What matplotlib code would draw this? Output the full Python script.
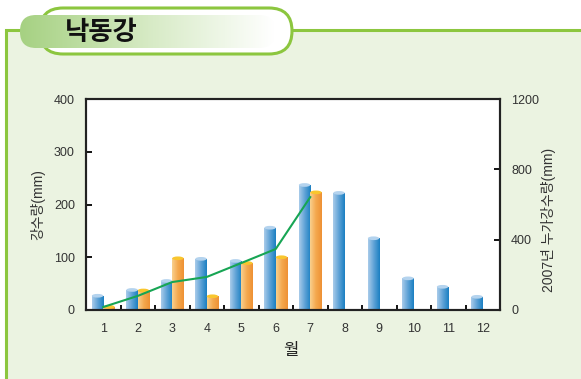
import numpy as np
import matplotlib
matplotlib.use('Agg')
import matplotlib.pyplot as plt
from matplotlib.patches import FancyBboxPatch, Rectangle, Ellipse
from matplotlib.colors import LinearSegmentedColormap

plt.rcParams['font.family'] = ['Liberation Sans', 'Noto Sans CJK KR', 'DejaVu Sans']

# 데이터
months = [1, 2, 3, 4, 5, 6, 7, 8, 9, 10, 11, 12]
avg_rain = [27, 38, 55, 97, 93, 156, 237, 222, 136, 60, 44, 25]
rain_2007 = [6, 37, 98, 26, 89, 100, 223]
cum_2007 = [17, 80, 159, 188, 267, 347, 642]

title = '낙동강'
green = '#8cc63f'

fig = plt.figure(figsize=(5.81, 3.79), dpi=100)

# 배경 (픽셀 좌표)
bg = fig.add_axes([0, 0, 1, 1], zorder=0)
bg.set_xlim(0, 581)
bg.set_ylim(379, 0)
bg.axis('off')
bg.add_patch(Rectangle((6, 30), 580, 360, facecolor='#ebf3e1', edgecolor=green, lw=2.2))

tab = FancyBboxPatch((40, 8), 252, 46, boxstyle='round,pad=0,rounding_size=23',
                     facecolor='white', edgecolor=green, lw=2.2)
bg.add_patch(tab)
pill = FancyBboxPatch((20, 15), 255, 33, boxstyle='round,pad=0,rounding_size=16',
                      facecolor='none', edgecolor='none')
bg.add_patch(pill)
tab_cmap = LinearSegmentedColormap.from_list('tab', ['#a6d182', '#d6eac4', '#ffffff'])
im = bg.imshow(np.linspace(0, 1, 128).reshape(1, -1), cmap=tab_cmap,
               extent=[20, 275, 48, 15], aspect='auto', zorder=1)
im.set_clip_path(pill)
bg.set_xlim(0, 581)
bg.set_ylim(379, 0)
bg.text(101, 33, title, fontsize=19, fontweight='bold', ha='center', va='center',
        color='#111111', zorder=3, family='Noto Sans CJK KR')

# 그래프
ax = fig.add_axes([86 / 581, (379 - 310) / 379, (500 - 86) / 581, (310 - 99) / 379], zorder=2)
ax.set_facecolor('white')

blue_cmap = LinearSegmentedColormap.from_list('b', ['#a9cbea', '#5ea2d6', '#1b7fc2'])
orange_cmap = LinearSegmentedColormap.from_list('o', ['#f9d08e', '#f4a84e', '#ee9134'])
grad = np.linspace(0, 1, 64).reshape(1, -1)

x = np.array(months)
w = 0.33
b1 = ax.bar(x - w / 2, avg_rain, w, facecolor='none', edgecolor='none')
b2 = ax.bar(x[:len(rain_2007)] + w / 2, rain_2007, w, facecolor='none', edgecolor='none')


def cylinders(bars, cmap, cap):
    for bar in bars:
        x0, h, bw = bar.get_x(), bar.get_height(), bar.get_width()
        im = ax.imshow(grad, cmap=cmap, extent=[x0, x0 + bw, 0, h], aspect='auto', zorder=2)
        im.set_clip_path(bar)
        ax.add_patch(Ellipse((x0 + bw / 2, h), bw, 7, facecolor=cap, edgecolor='none', zorder=3))


cylinders(b1, blue_cmap, '#b4d3ee')
cylinders(b2, orange_cmap, '#f9c62e')

ax.set_xlim(0.5, 12.5)
ax.set_ylim(0, 400)
ax.set_yticks([0, 100, 200, 300, 400])
ax.set_xticks(months)
ax.set_xticks(np.arange(1.5, 12.5, 1), minor=True)
ax.tick_params(axis='x', which='major', length=0, pad=9, labelsize=9, labelcolor='#333333')
ax.tick_params(axis='x', which='minor', direction='in', length=3.5, width=1.3)
ax.tick_params(axis='y', direction='in', length=4, width=1.3, labelsize=9,
               labelcolor='#333333', pad=8)
for s in ax.spines.values():
    s.set_linewidth(1.5)
    s.set_color('#222222')

ax2 = ax.twinx()
ax2.plot(months[:len(cum_2007)], cum_2007, color='#17a554', lw=1.5, zorder=5)
ax2.set_ylim(0, 1200)
ax2.set_yticks([0, 400, 800, 1200])
ax2.tick_params(axis='y', direction='in', length=4, width=1.3, labelsize=9,
                labelcolor='#333333', pad=8)
for s in ax2.spines.values():
    s.set_linewidth(1.5)
    s.set_color('#222222')

fig.text(38 / 581, 1 - 205 / 379, '강수량(mm)', rotation=90, ha='center', va='center',
         fontsize=10, color='#333333')
fig.text(548 / 581, 1 - 220 / 379, '2007년 누가강수량(mm)', rotation=90, ha='center',
         va='center', fontsize=10, color='#333333')
fig.text(291 / 581, 1 - 351 / 379, '월', ha='center', va='center', fontsize=12, color='#222222')

fig.savefig('out.png', dpi=100)
